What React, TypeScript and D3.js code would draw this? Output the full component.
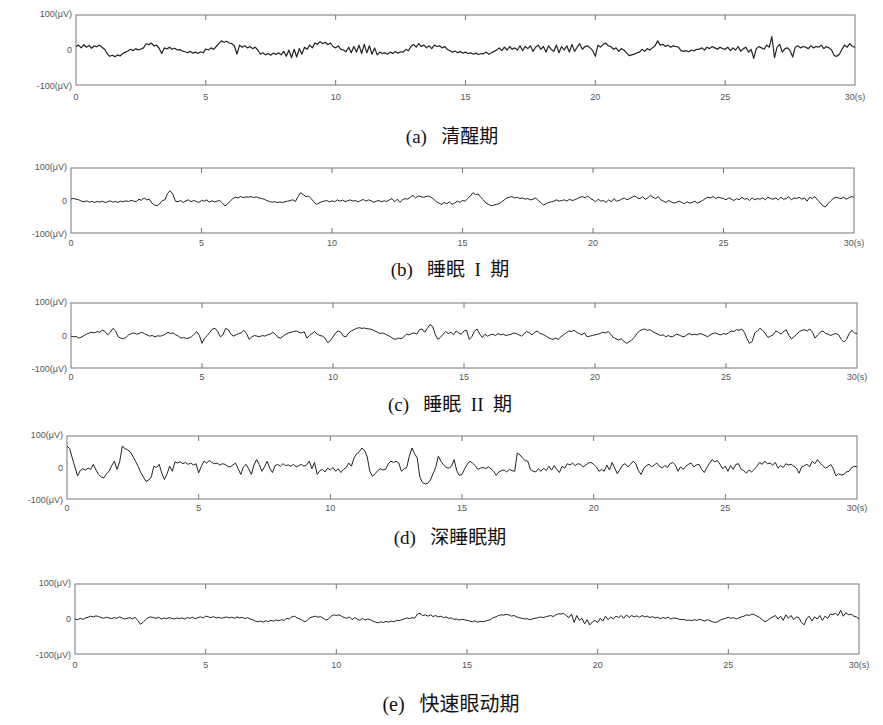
import React from 'react';
import * as d3 from 'd3';

// time axis
const xTicks = [0, 5, 10, 15, 20, 25, 30];
const xTickLabels = ['0', '5', '10', '15', '20', '25', '30(s)'];
const yTicks = [100, 0, -100];
const yTickLabels = ['100(μV)', '0', '-100(μV)'];
const captions = ['(a)   清醒期', '(b)   睡眠  I  期', '(c)   睡眠  II  期', '(d)   深睡眠期', '(e)   快速眼动期'];
const duration = 30;

// EEG samples (μV), one value every 0.1 s
const awake = [
  10, 14, 6, 15, 8, 13, 5, 12, 9, 14,
  8, 2, -10, -18, -15, -19, -14, -17, -10, -6,
  -3, 2, -2, 4, 0, 3, 6, 18, 15, 20,
  12, 14, 5, -10, 6, 3, 8, 2, 5, 0,
  1, -3, -5, -8, -4, -9, -6, -10, -5, -8,
  3, 0, 6, 2, 10, 18, 26, 22, 25, 20,
  18, 12, -12, 14, 8, 12, 6, 10, 4, 8,
  0, -12, -8, -14, -10, -15, -9, -13, -8, -14,
  -4, -18, 0, -22, 2, -20, 4, -12, 8, 2,
  14, 6, 20, 16, 24, 18, 22, 15, 20, 10,
  6, 12, 2, 0, -5, 8, -8, 10, -6, 14,
  -10, 16, -8, 12, -12, 6, -14, -6, -10, -8,
  -12, -6, -10, -4, -9, -5, -6, 2, -2, 10,
  16, 8, 18, 10, 14, 6, 12, 4, 14, 10,
  12, 6, 10, 2, -2, -6, -3, -8, -4, -9,
  -6, -10, -8, -12, -9, -13, -10, -11, -6, -12,
  -8, -4, 0, 6, -2, 8, 0, 10, 2, 6,
  0, 12, -2, 10, 4, 12, -4, 8, 14, 2,
  10, -6, 12, 2, -4, 14, -8, 10, 0, 12,
  -6, 16, -4, 8, 18, 2, 10, 12, 6, -2,
  -18, 14, 8, 16, 20, 12, 10, 2, 6, -4,
  4, 0, -8, -16, -14, -12, -8, -6, 2, -4,
  4, 0, 6, 12, 26, 14, 16, 10, 14, 8,
  12, 10, 8, -2, -4, -2, -5, 0, -3, 2,
  2, 6, 0, 8, 4, 10, 6, 2, 8, 4,
  2, 8, -2, 6, 0, 10, -4, 4, 8, -6,
  2, -24, 4, 10, 6, 2, 14, 8, 38, -22,
  8, 16, -6, 4, 6, -2, -20, 8, 12, 6,
  10, 8, 4, 12, 6, 10, 8, 14, 4, 10,
  6, 0, -16, -18, -12, 2, 14, 8, 18, 10,
  8,
];

const stage1 = [
  5, 6, 4, 2, -2, -4, -1, -5, -3, -6,
  -3, -5, -2, -6, -4, -1, -5, -3, -6, -2,
  -4, -1, -3, 0, -2, -3, 4, 1, 8, 2,
  4, -8, -14, -16, -10, 0, 2, 22, 30, 20,
  -2, -4, 0, -6, -1, 2, -4, 0, -3, -6,
  0, -2, 2, -5, -1, -4, -2, 0, -8, -17,
  -10, -2, 6, 10, 8, 12, 9, 11, 10, 12,
  9, 11, 8, 6, 4, 0, -3, -5, -4, -6,
  -5, -6, -4, -2, 0, 2, -3, 12, 24, 18,
  12, 14, 6, -4, -12, -8, -4, -2, 0, -4,
  -1, -4, 2, -2, 1, -3, -1, 2, -2, 0,
  -4, 0, 3, -2, 2, -1, -5, -2, 0, -4,
  -1, -3, 2, 6, -4, 4, -6, 2, 6, 4,
  10, 16, 8, 14, 12, 10, 12, 14, 10, 4,
  -4, -8, -12, -6, -10, -4, -12, -8, -2, -6,
  0, -2, 6, 14, 24, 18, 20, 10, 2, -8,
  -12, -16, -14, -12, -10, -4, 2, 8, 10, 12,
  8, 10, 6, 8, 4, 6, 2, 4, 8, 0,
  -6, -14, -10, -6, -4, -2, 2, -2, 0, 2,
  -2, 4, 0, 2, 6, 10, 12, 8, 14, 6,
  2, -4, 4, -2, 0, -6, 2, -4, 6, -2,
  0, 4, 8, 2, 6, 10, 14, 8, 6, 12,
  4, 8, 16, 10, 6, 12, 2, -2, -6, 0,
  -4, -8, -6, -2, -6, -10, -4, -8, -6, -2,
  -8, -4, 0, 6, 10, 8, 12, 6, 10, 8,
  6, 2, 8, 4, 0, 6, 2, 10, 4, 6,
  0, 8, 2, 6, 4, 8, 2, 10, 6, 4,
  8, 2, 10, 4, 6, 12, 2, 8, 6, 10,
  4, 8, -2, 10, 6, 12, 2, -6, -16, -20,
  -10, -2, 6, 10, 8, 6, 10, 4, 8, 12,
  10,
];

const stage2 = [
  -2, -4, -3, -8, -5, 0, 4, 8, 10, 8,
  12, 10, 17, 12, 2, 10, 22, 14, -4, -8,
  -10, -6, 2, 6, 8, 4, 6, 10, 6, 2,
  -2, 0, -4, -1, -2, 0, 4, 10, 6, 8,
  2, -2, -8, -6, -9, -8, -4, 4, 12, 0,
  -24, -8, 0, 10, 20, 22, 12, -4, 2, 22,
  18, 4, -2, 2, 6, 8, 16, 6, -12, -4,
  0, -2, -4, 0, -2, 2, 4, 10, 4, -6,
  -8, -2, 4, 8, 10, 12, 14, 10, 8, 12,
  -8, 0, 6, 12, 4, 0, -2, -8, -22, -16,
  -4, 8, 14, 10, -2, -4, 8, 14, 18, 22,
  24, 22, 23, 21, 20, 18, 14, 10, 6, 8,
  4, 0, -4, -10, -12, -8, -10, -4, 4, 2,
  6, 8, 4, 18, 20, 10, 22, 34, 28, 4,
  -12, -6, 4, 12, 6, 10, 2, 14, 8, 4,
  14, 16, -12, -4, 14, 20, 4, -6, 4, -2,
  2, 4, 0, 6, 2, 4, 0, 2, 4, 8,
  6, 2, -2, 6, 12, 8, 2, 10, 14, 6,
  4, 0, -6, -10, -12, -8, -12, -4, 2, 8,
  14, 12, 16, 10, 6, 2, 8, -4, -2, 0,
  2, 4, 6, 10, 8, 12, 4, -6, -10, -14,
  -10, -18, -24, -20, -14, -6, 6, 14, 18, 20,
  16, 18, 12, 8, 4, 0, 2, -4, 0, -4,
  -2, 4, 2, -2, -4, 2, 6, 2, 4, 2,
  6, 4, 0, -4, 2, 6, 8, 4, 2, 6,
  4, 8, 14, 12, 18, 16, 20, 10, -10, -24,
  -18, 8, 14, 22, 16, 6, -6, -2, 2, 14,
  10, 4, 12, 18, 0, -10, -4, 4, 12, 16,
  18, 14, 20, 10, -8, 2, 10, 14, 6, 4,
  0, 4, 6, 2, -12, -20, -12, 6, 16, 8,
  6,
];

const deepSleep = [
  68, 60, 30, 2, -27, -10, -4, -8, -2, -6,
  10, -8, -22, -30, -33, -20, -12, 6, 20, -6,
  18, 68, 60, 56, 50, 36, 20, 4, -16, -30,
  -44, -40, -30, 4, 0, 10, -18, -38, -20, 4,
  -12, 18, 14, 18, 12, 16, 10, 14, 8, 12,
  -17, 4, 20, 14, 22, 16, 12, 14, 8, 12,
  10, 4, 2, 8, 14, -4, -22, 2, 10, -4,
  -22, 8, 25, 10, -12, 2, 20, -2, -16, 6,
  10, 4, 12, 6, 8, 4, 10, 2, 6, 10,
  4, 8, 20, -4, 16, -22, -10, -6, -14, -2,
  -8, 0, -12, -4, -16, -6, 0, 14, 4, 30,
  44, 50, 62, 54, 34, -12, -28, -20, -10, -4,
  -8, -6, 12, 20, 16, 20, 14, -12, -4, 0,
  36, 62, 44, 30, -30, -48, -52, -50, -40, -20,
  0, 36, 20, 8, 0, -2, 4, 25, -10, -25,
  -22, -4, 10, 20, 14, 6, -6, -2, 0, -4,
  2, -4, -12, -25, -14, -10, -8, -14, -6, -10,
  -12, 46, 40, 30, 22, 20, -6, -12, -14, -4,
  -12, -2, -10, 4, -8, 6, -6, -16, 4, -2,
  12, 8, 14, 6, 12, 10, 2, 8, 14, 16,
  10, 2, -12, -6, -12, 8, -8, 16, -2, -20,
  -6, 8, 12, 2, 10, 20, 12, -10, -22, -4,
  6, 10, 2, 8, 14, 4, -2, 6, 0, 12,
  16, 8, -12, 2, -6, 4, 10, 14, 2, 8,
  10, -6, -16, 0, 14, 25, 18, 22, 10, -4,
  4, -12, 6, -6, 10, 12, -6, -10, -18, -8,
  -14, -6, 4, 16, 10, 20, 12, 14, 8, 16,
  -2, 6, 0, 12, 8, 10, 4, -2, -18, 2,
  6, 10, 2, 20, 12, 25, 14, 6, -2, 2,
  10, -4, -27, -20, -24, -22, -14, -12, 0, 4,
  2,
];

const rem = [
  0, -2, 2, -1, 3, 5, 8, 6, 9, 7,
  4, 2, 5, 3, 1, 4, 2, 6, 3, 0,
  2, 4, 0, 5, -4, -15, -10, -2, 4, 6,
  4, 2, 5, 0, 3, 1, 4, 2, 0, 3,
  1, 3, 0, 4, 2, 5, 1, 4, 6, 3,
  8, 6, 4, 7, 3, 5, 2, 4, 6, 3,
  5, 2, 6, 3, 5, 1, 4, 0, -2, -6,
  -8, -6, -9, -5, -7, -4, -6, -3, -5, -2,
  -4, 2, 0, 6, 8, 3, 0, -4, -8, -3,
  4, 6, 8, 5, 7, 2, -3, 0, 8, 12,
  10, 12, 8, 4, 2, 6, -2, 4, 0, -4,
  2, -3, 0, -2, -6, -9, -11, -8, -10, -7,
  -9, -6, -8, -4, -5, -2, 0, 3, 1, 4,
  2, 14, 16, 10, 12, 8, 12, 7, 10, 6,
  8, 4, 6, 2, 3, -1, 0, -3, -1, -2,
  -4, -6, -8, -5, -9, -7, -8, -6, -4, -2,
  4, 6, 10, 12, 11, 13, 12, 8, 10, 6,
  4, 2, 0, 1, -2, 0, 2, 3, 6, 4,
  6, 8, 10, 7, 12, 15, 14, 16, 10, 4,
  14, -10, 10, -4, 2, -14, -2, -17, -8, -4,
  -10, 2, -6, 8, -2, 6, 0, 8, 4, 10,
  2, 12, 4, 10, 6, 9, 5, 10, 6, 8,
  4, 7, 3, 5, 1, 4, 2, 5, 0, 3,
  2, 0, -2, -1, -4, -3, -5, -2, -4, -1,
  -3, -6, -2, -5, -8, -10, -7, -3, 0, 2,
  5, 2, 4, 0, 3, 6, 8, 12, 10, 14,
  12, 8, 4, -2, -8, -4, 2, 6, 10, 0,
  8, -4, 12, 2, 10, -2, 6, 4, -10, -17,
  2, 8, -6, 6, 0, 10, -4, 8, 2, 14,
  12, 16, 10, 25, 8, 18, 12, 14, 8, 6,
  0,
];

const seriesList = [awake, stage1, stage2, deepSleep, rem];

// layout of each panel (pixels)
const layout = [
  { left: 76, right: 855, top: 15, bottom: 85, labelY: 98, captionX: 452, captionY: 139, captionSize: 19, lineW: 1.2 },
  { left: 71, right: 854, top: 168, bottom: 233, labelY: 244, captionX: 450, captionY: 272, captionSize: 19, lineW: 1 },
  { left: 71, right: 857, top: 303, bottom: 368, labelY: 378, captionX: 450, captionY: 407, captionSize: 19, lineW: 1 },
  { left: 67, right: 857, top: 436, bottom: 499, labelY: 509, captionX: 450, captionY: 540, captionSize: 19, lineW: 1 },
  { left: 75, right: 859, top: 584, bottom: 654, labelY: 666, captionX: 451, captionY: 706, captionSize: 20, lineW: 1 },
];

const axisColor = '#777';
const textColor = '#555';
const lineColor = '#222';
const sansFont = "'Liberation Sans', Arial, sans-serif";
const captionFont = "'Liberation Serif', 'Times New Roman', 'Noto Sans CJK SC', serif";

function Panel({ values, box, caption }: { values: number[]; box: typeof layout[0]; caption: string }) {
  const x = d3.scaleLinear().domain([0, duration]).range([box.left, box.right]);
  const y = d3.scaleLinear().domain([-100, 100]).range([box.bottom, box.top]);
  const n = values.length;
  const line = d3
    .line<number>()
    .x((_, i) => x((i * duration) / (n - 1)))
    .y((v) => y(v));
  return (
    <g>
      <rect
        x={box.left}
        y={box.top}
        width={box.right - box.left}
        height={box.bottom - box.top}
        fill="#fff"
        stroke={axisColor}
        strokeWidth={1}
      />
      {xTicks.slice(1, -1).map((t) => (
        <g key={t}>
          <line x1={x(t)} x2={x(t)} y1={box.top} y2={box.top + 5} stroke={axisColor} />
          <line x1={x(t)} x2={x(t)} y1={box.bottom} y2={box.bottom - 5} stroke={axisColor} />
        </g>
      ))}
      {xTicks.map((t, i) => (
        <text
          key={'xl' + t}
          x={x(t)}
          y={box.labelY}
          textAnchor="middle"
          dominantBaseline="middle"
          fontFamily={sansFont}
          fontSize={9}
          fill={textColor}
        >
          {xTickLabels[i]}
        </text>
      ))}
      {yTicks.map((v, i) => (
        <text
          key={'yl' + v}
          x={box.left - 4}
          y={y(v) + (v === -100 ? 2 : v === 100 ? 0 : 1)}
          textAnchor="end"
          dominantBaseline="middle"
          fontFamily={sansFont}
          fontSize={9}
          fill={textColor}
        >
          {yTickLabels[i]}
        </text>
      ))}
      <path d={line(values) || ''} fill="none" stroke={lineColor} strokeWidth={box.lineW} strokeLinejoin="round" />
      <text
        x={box.captionX}
        y={box.captionY}
        textAnchor="middle"
        dominantBaseline="middle"
        fontFamily={captionFont}
        fontSize={box.captionSize}
        fill="#111"
        style={{ whiteSpace: 'pre' }}
      >
        {caption}
      </text>
    </g>
  );
}

export default function App() {
  return (
    <svg
      width={883}
      height={725}
      style={{ position: 'absolute', left: 0, top: 0, background: '#fff' }}
    >
      <rect x={0} y={0} width={883} height={725} fill="#fff" />
      {seriesList.map((vals, i) => (
        <Panel key={i} values={vals} box={layout[i]} caption={captions[i]} />
      ))}
    </svg>
  );
}
